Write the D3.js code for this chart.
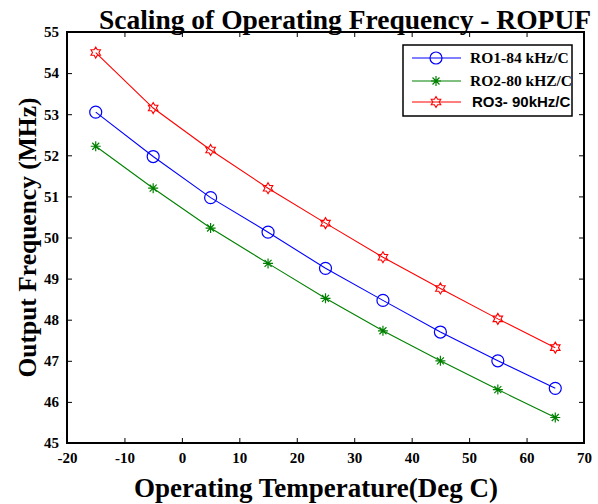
<!DOCTYPE html>
<html>
<head>
<meta charset="utf-8">
<script src="https://cdn.jsdelivr.net/npm/d3@7"></script>
<style>
  body { margin: 0; background: #fff; }
</style>
</head>
<body>
<script>
(function() {
  "use strict";
  const TEMPS = [-15, -5, 5, 15, 25, 35, 45, 55, 65],
    RO1 = [53.05, 51.97, 50.97, 50.13, 49.25, 48.47, 47.7, 47.0, 46.33],
    RO2 = [52.22, 51.2, 50.23, 49.37, 48.52, 47.73, 47.0, 46.3, 45.62],
    RO3 = [54.5, 53.15, 52.13, 51.2, 50.35, 49.52, 48.76, 48.02, 47.32],
    X_TICKS = [-20, -10, 0, 10, 20, 30, 40, 50, 60, 70],
    Y_TICKS = [45, 46, 47, 48, 49, 50, 51, 52, 53, 54, 55],
    NAMES = ["RO1-84 kHz/C", "RO2-80 kHZ/C", "RO3- 90kHz/C"];

  const W = 598, H = 504;
  const m = { left: 67, right: 14, top: 32, bottom: 61 };
  const SERIF = "'Liberation Serif', 'Times New Roman', serif",
    SANS = "'Liberation Sans', Arial, sans-serif";
  const svg = d3.select("body").append("svg").attr("width", W).attr("height", H);

  const x = d3.scaleLinear().domain([-20, 70]).range([m.left, W - m.right]);
  const y = d3.scaleLinear().domain([45, 55]).range([H - m.bottom, m.top]);
  const pw = W - m.right - m.left, ph = H - m.bottom - m.top;

  // ticks pointing inward on all four sides, labels on bottom/left
  const g = svg.append("g");
  g.append("g").attr("transform", `translate(0,${H - m.bottom})`)
    .call(d3.axisBottom(x).tickValues(X_TICKS).tickSize(-5).tickPadding(9).tickFormat(d => String(d)));
  g.append("g").attr("transform", `translate(${m.left},0)`)
    .call(d3.axisLeft(y).tickValues(Y_TICKS).tickSize(-5).tickPadding(8).tickFormat(d => String(d)));
  g.append("g").attr("transform", `translate(0,${m.top})`)
    .call(d3.axisTop(x).tickValues(X_TICKS).tickSize(-5).tickFormat(""));
  g.append("g").attr("transform", `translate(${W - m.right},0)`)
    .call(d3.axisRight(y).tickValues(Y_TICKS).tickSize(-5).tickFormat(""));
  g.selectAll(".domain").remove();
  g.selectAll(".tick line").attr("stroke", "#000").attr("stroke-width", 1);
  g.selectAll(".tick text").style("font-size", "15px").style("fill", "#000")
    .style("font-family", SERIF).style("font-weight", "bold");

  svg.append("rect").attr("x", m.left).attr("y", m.top).attr("width", pw).attr("height", ph)
    .attr("fill", "none").attr("stroke", "#000").attr("stroke-width", 2);

  const series = [
    { vals: RO1, color: "#0000ff", marker: "circle" },
    { vals: RO2, color: "#008000", marker: "asterisk" },
    { vals: RO3, color: "#ff0000", marker: "hexagram" }
  ];

  function hexagram(r) {
    const pts = [];
    for (let i = 0; i < 12; i++) {
      const a = Math.PI / 6 * i - Math.PI / 2;
      const rr = i % 2 === 0 ? r : r * 0.58;
      pts.push([rr * Math.cos(a), rr * Math.sin(a)]);
    }
    return "M" + pts.map(p => p.join(",")).join("L") + "Z";
  }
  function drawMarker(sel, type, color) {
    if (type === "circle") {
      sel.append("circle").attr("r", 6).attr("fill", "none").attr("stroke", color).attr("stroke-width", 1.2);
    } else if (type === "asterisk") {
      const r = 5;
      sel.append("path").attr("d",
        `M${-r},0L${r},0M0,${-r}L0,${r}M${-r*0.7},${-r*0.7}L${r*0.7},${r*0.7}M${-r*0.7},${r*0.7}L${r*0.7},${-r*0.7}`)
        .attr("stroke", color).attr("stroke-width", 1.2).attr("fill", "none");
    } else {
      sel.append("path").attr("d", hexagram(5.5)).attr("fill", "none").attr("stroke", color).attr("stroke-width", 1.1);
    }
  }

  const line = d3.line().x((d, i) => x(TEMPS[i])).y(d => y(d));
  series.forEach(s => {
    svg.append("path").datum(s.vals).attr("d", line).attr("fill", "none")
      .attr("stroke", s.color).attr("stroke-width", 1.1);
    svg.selectAll(null).data(s.vals).enter().append("g")
      .attr("transform", (d, i) => `translate(${x(TEMPS[i])},${y(d)})`)
      .each(function() { drawMarker(d3.select(this), s.marker, s.color); });
  });

  // legend
  const lg = svg.append("g");
  lg.append("rect").attr("x", 403).attr("y", 45).attr("width", 169).attr("height", 71)
    .attr("fill", "#fff").attr("stroke", "#000").attr("stroke-width", 1.5);
  const legY = [58, 81, 102];
  series.forEach((s, i) => {
    lg.append("line").attr("x1", 412).attr("x2", 461).attr("y1", legY[i]).attr("y2", legY[i])
      .attr("stroke", s.color).attr("stroke-width", 1.1);
    drawMarker(lg.append("g").attr("transform", `translate(436,${legY[i]})`), s.marker, s.color);
    lg.append("text").attr("x", i === 2 ? 472 : 470).attr("y", legY[i] + 5)
      .style("font-size", i === 2 ? "15px" : "15.5px")
      .style("font-family", i === 2 ? SANS : SERIF).style("font-weight", "bold")
      .text(NAMES[i]);
  });

  const titleStyle = sel => sel.style("font-family", SERIF).style("font-weight", "bold").attr("fill", "#000");
  svg.append("text").attr("x", 345).attr("y", 29).attr("text-anchor", "middle")
    .style("font-size", "27.5px").call(titleStyle).text("Scaling of Operating Frequency - ROPUF");
  svg.append("text").attr("x", 316).attr("y", 497).attr("text-anchor", "middle")
    .style("font-size", "27px").call(titleStyle).text("Operating Temperature(Deg C)");
  svg.append("text").attr("transform", `translate(36,${m.top + ph / 2}) rotate(-90)`)
    .attr("text-anchor", "middle").style("font-size", "25.5px").call(titleStyle).text("Output Frequency (MHz)");
}());
</script>
</body>
</html>
